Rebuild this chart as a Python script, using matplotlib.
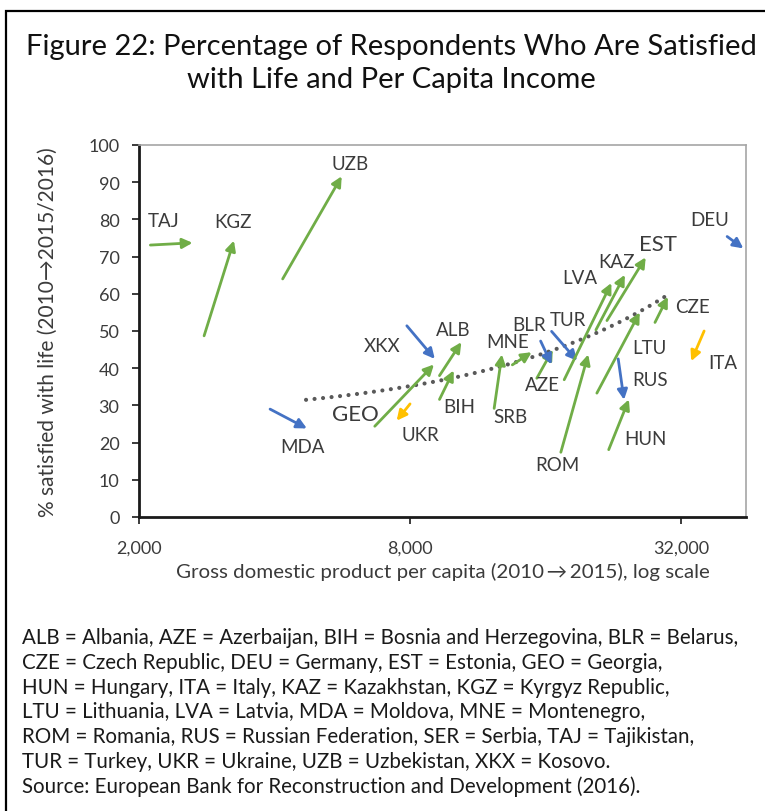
import matplotlib.pyplot as plt
import numpy as np
from matplotlib.patches import Rectangle

plt.rcParams['font.family'] = ['Lato', 'DejaVu Sans']

# Data: country code, GDP per capita 2010 -> 2015, % satisfied 2010 -> 2015/16
codes = ["TAJ", "KGZ", "UZB", "MDA", "XKX", "GEO", "UKR", "ALB", "BIH", "SRB",
         "MNE", "AZE", "BLR", "TUR", "ROM", "LVA", "KAZ", "EST", "LTU", "RUS",
         "HUN", "CZE", "ITA", "DEU"]
gdp_2010 = [2120, 2790, 4170, 3910, 7870, 6680, 8000, 9300, 9300, 12300,
            13500, 15300, 15600, 16500, 17300, 17600, 20700, 21900, 20800, 23200,
            22100, 28000, 36000, 40500]
gdp_2015 = [2630, 3250, 5640, 4720, 9080, 9040, 7470, 10400, 10000, 12800,
            14900, 16600, 16500, 18800, 19900, 22400, 24000, 26700, 25900, 23900,
            24500, 29900, 33700, 44000]
sat_2010 = [73.1, 48.7, 64.0, 29.0, 51.4, 24.4, 30.4, 38.0, 31.6, 29.2,
            40.9, 37.3, 47.3, 49.9, 17.4, 36.9, 50.3, 52.8, 33.3, 42.5,
            18.1, 52.3, 50.0, 75.4]
sat_2015 = [73.7, 74.3, 91.6, 23.8, 42.5, 41.0, 25.9, 47.0, 39.4, 43.7,
            44.3, 45.0, 41.0, 42.0, 43.7, 62.9, 65.1, 69.8, 55.0, 31.5,
            31.6, 59.2, 41.9, 72.2]

# Trend line (linear in GDP)
trend_gdp = [4700, 29700]
trend_sat = [31.5, 59.5]

# Where each country label sits
label_xy = {
    "TAJ": (2265, 79.6), "KGZ": (3230, 79.4), "UZB": (5880, 94.9),
    "MDA": (4620, 19.0), "XKX": (6940, 46.2), "GEO": (6060, 27.7),
    "UKR": (8420, 22.3), "ALB": (10000, 50.3), "BIH": (10270, 29.6),
    "SRB": (13350, 27.1), "MNE": (13180, 47.3), "AZE": (15710, 35.5),
    "BLR": (14740, 51.8), "TUR": (17930, 53.2), "ROM": (16970, 14.2),
    "LVA": (19100, 64.3), "KAZ": (23000, 68.8), "EST": (28500, 73.4),
    "LTU": (27150, 45.5), "RUS": (27250, 36.9), "HUN": (26700, 21.0),
    "CZE": (33960, 56.5), "ITA": (39660, 41.6), "DEU": (37000, 79.9),
}
big_labels = ["EST", "GEO"]

green = "#70AD47"
blue = "#4472C4"
yellow = "#FFC000"
text_col = "#3b3b3b"

fig = plt.figure(figsize=(7.65, 8.12), dpi=100)
ax = fig.add_axes([139 / 765, 1 - 518 / 812, 607 / 765, 372 / 812])

ax.set_xscale("log")
ax.set_xlim(2000, 44600)
ax.set_ylim(0, 100)

# trend line
tx = np.linspace(trend_gdp[0], trend_gdp[1], 60)
ty = np.interp(tx, trend_gdp, trend_sat)
ax.plot(tx, ty, color="#595959", lw=3, linestyle=(0, (0.001, 2.05)),
        dash_capstyle="round", zorder=2)

for i, c in enumerate(codes):
    if sat_2015[i] >= sat_2010[i]:
        col = green
    elif gdp_2015[i] >= gdp_2010[i]:
        col = blue
    else:
        col = yellow
    ax.annotate("", xy=(gdp_2015[i], sat_2015[i]), xytext=(gdp_2010[i], sat_2010[i]),
                arrowprops=dict(arrowstyle="-|>", color=col, lw=2,
                                mutation_scale=15, shrinkA=0, shrinkB=0),
                zorder=3)
    lx, ly = label_xy[c]
    ax.text(lx, ly, c, ha="center", va="center", color=text_col,
            fontsize=16 if c in big_labels else 13.5)

# axes styling
for s in ["top", "right"]:
    ax.spines[s].set_color("#a6a6a6")
    ax.spines[s].set_linewidth(1.2)
for s in ["left", "bottom"]:
    ax.spines[s].set_color("#1a1a1a")
    ax.spines[s].set_linewidth(2)

ax.set_yticks(np.arange(0, 101, 10))
ax.set_xticks([2000, 8000, 32000])
ax.set_xticklabels(["2,000", "8,000", "32,000"])
ax.xaxis.set_minor_locator(plt.NullLocator())
ax.tick_params(axis="both", direction="out", length=5, width=1.2,
               color="#1a1a1a", labelsize=13, labelcolor=text_col)
ax.tick_params(axis="y", pad=9)
ax.tick_params(axis="x", pad=11)

ax.set_xlabel("Gross domestic product per capita (2010\u2009\u2192\u20092015), log scale",
              fontsize=14.75, color=text_col, labelpad=5)
ax.set_ylabel("% satisfied with life (2010\u21922015/2016)", fontsize=15,
              color=text_col, labelpad=22)

# title
fig.text(0.512, 1 - 47 / 812, "Figure 22: Percentage of Respondents Who Are Satisfied",
         ha="center", va="center", fontsize=21, color="#111111")
fig.text(0.512, 1 - 80 / 812, "with Life and Per Capita Income",
         ha="center", va="center", fontsize=21, color="#111111")

# footnote
notes = [
    "ALB = Albania, AZE = Azerbaijan, BIH = Bosnia and Herzegovina, BLR = Belarus,",
    "CZE = Czech Republic, DEU = Germany, EST = Estonia, GEO = Georgia,",
    "HUN = Hungary, ITA = Italy, KAZ = Kazakhstan, KGZ = Kyrgyz Republic,",
    "LTU = Lithuania, LVA = Latvia, MDA = Moldova, MNE = Montenegro,",
    "ROM = Romania, RUS = Russian Federation, SER = Serbia, TAJ = Tajikistan,",
    "TUR = Turkey, UKR = Ukraine, UZB = Uzbekistan, XKX = Kosovo.",
    "Source: European Bank for Reconstruction and Development (2016).",
]
for k, line in enumerate(notes):
    fig.text(22 / 765, 1 - (638 + 24.8 * k) / 812, line, ha="left", va="center",
             fontsize=14.8, color="#1a1a1a")

# outer frame (cropped at right and bottom)
fig.patches.append(Rectangle((6 / 765, -0.05), 1.1, 1 - 12 / 812 + 0.05,
                             transform=fig.transFigure, fill=False,
                             edgecolor="black", lw=1.6))

fig.savefig("out.png", dpi=100)
